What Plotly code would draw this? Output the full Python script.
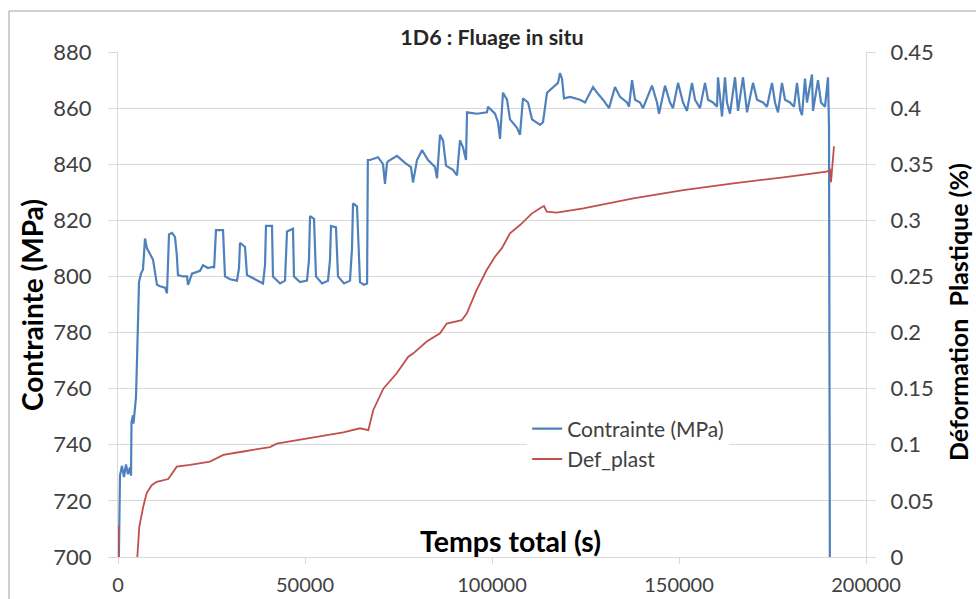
import plotly.graph_objects as go

# ---- data ----
temps_contrainte = [
    130, 350, 530, 1070, 1600, 2140, 2670, 3210, 3480, 3610, 4010, 4140, 4410, 4810,
    5080, 5270, 5430, 5620, 6150, 6680, 7220, 7750, 8560, 9360, 10430, 11230, 12570,
    13100, 13640, 14440, 15240, 15700, 16040, 17380, 18450, 18720, 19790, 21930, 22730,
    24060, 25400, 25700, 26200, 28080, 28610, 29950, 31820, 32350, 32620, 33960, 34490,
    36630, 38770, 39310, 39570, 41180, 41440, 43320, 44650, 45190, 46790, 47060, 48660,
    50530, 51070, 51340, 52410, 52940, 54550, 56150, 56690, 56950, 58290, 58820, 60430,
    62030, 62570, 62840, 63900, 64710, 65780, 66600, 66800,
    67380, 69520, 70860, 71390, 71920, 72190, 74600, 76740, 78340, 78880, 79950, 81290,
    82890, 84760, 85300, 86100, 86900, 87700, 89570, 90640, 91440, 92250, 93050, 93320,
    95990, 98660, 98930, 100800, 101600, 102140, 102940, 104010, 104810, 106690, 107490,
    108290, 109630, 110700, 112830, 113640, 114710, 116310, 117650, 118180, 118720, 119250,
    120860, 123530, 124870, 127010, 128080, 129680, 131290, 132890, 134230, 136100, 136630,
    137440, 138240, 139580, 140380, 142780, 144120, 144660, 146260, 147600, 148400, 149740,
    151070, 152140, 153480, 154280, 155620, 156960, 157760, 159100, 160170, 160430, 161500,
    162300, 162840, 163640, 164980, 165780, 167120, 168190, 169790, 170860, 172460, 173530,
    174870, 175670, 176470, 177540, 178340, 179680, 180750, 181550, 182350, 182890, 183690,
    184220, 185560, 185830, 187170, 187970, 189040, 189840, 190110, 190200, 190300, 190350,
]
contrainte = [
    690, 725, 729, 732.5, 728.5, 733, 729.5, 732, 729, 748, 750.5, 747.5, 752, 757,
    770, 778.5, 791.5, 798, 801, 802.5, 813.5, 810, 808, 806, 797, 796.5, 796,
    794, 815, 815.5, 814, 808, 800.5, 800, 800, 797, 801, 802, 804,
    803, 803.5, 803, 816.5, 816.5, 800, 799, 798.5, 803, 812, 810.5, 800.5,
    799, 797.5, 804, 818, 818, 800, 797.5, 798.5, 816, 817, 800, 798,
    798.5, 806, 821.5, 820.5, 800, 797.5, 798.5, 806, 818, 817.5, 800, 797.5,
    798.5, 810, 826, 825, 798, 797, 797.5, 841.5,
    841.5, 842.5, 840, 833, 840.5, 841, 843, 840.5, 839, 833.5, 841.5, 845,
    841.5, 839, 835, 850.5, 848.5, 839.5, 838, 836, 848.5, 846, 841.5, 858.5,
    858, 858.5, 860.5, 858, 855, 849, 865.5, 863, 856, 853, 850.5,
    863.5, 862, 856, 854, 855, 865.5, 867.5, 869, 872.5, 870.5, 863.5,
    864, 863, 862, 867.5, 865.5, 863, 860, 867.5, 864, 862, 860.5,
    870, 863, 862, 860, 868, 862, 858, 868, 862, 860, 869,
    862, 859, 869, 863, 860, 869, 863, 862, 860.5, 871, 857,
    871, 862, 858, 871, 859, 871, 858.5, 869, 863, 862, 860.5,
    869, 862, 858.5, 869, 863, 862, 860.5, 869, 859.5, 857.5, 870.5,
    862, 872, 859, 870, 862, 860.5, 871, 853, 790, 760, 690,
]

temps_def = [
    0, 100, 300, 5000, 5160, 5700, 6760, 7670, 9010, 10350, 13450, 15700, 19250,
    24600, 28160, 33500, 40640, 42440, 47780, 53130, 60240, 64710, 66930, 68260,
    70940, 74520, 77620, 78960, 82540, 86100, 87890, 91900, 93240, 95910, 98580,
    100800, 102600, 104810, 107490, 110620, 112830, 113900, 114630, 117300, 124410,
    137780, 151150, 164520, 177890, 189490, 190380, 190640, 191040, 191440,
]
def_plast = [
    -0.01, 0.028, -0.05, -0.02, 0.0, 0.027, 0.045, 0.057, 0.064, 0.067, 0.0695, 0.0805, 0.082,
    0.085, 0.091, 0.094, 0.098, 0.101, 0.1037, 0.107, 0.111, 0.1147, 0.113, 0.131,
    0.150, 0.1637, 0.1785, 0.1815, 0.192, 0.1993, 0.208, 0.211, 0.217, 0.238, 0.2557,
    0.2676, 0.275, 0.2884, 0.2958, 0.306, 0.3107, 0.3128, 0.3077, 0.3068, 0.3107,
    0.3196, 0.327, 0.333, 0.3383, 0.3433, 0.345, 0.334, 0.35, 0.366,
]

x_ticks = [0, 50000, 100000, 150000, 200000]
x_ticktext = ["0", "50000", "100000", "150000", "200000"]
y_ticks = [700, 720, 740, 760, 780, 800, 820, 840, 860, 880]
y2_ticks = [0, 0.05, 0.1, 0.15, 0.2, 0.25, 0.3, 0.35, 0.4, 0.45]
y2_ticktext = ["0", "0.05", "0.1", "0.15", "0.2", "0.25", "0.3", "0.35", "0.4", "0.45"]

BLUE = "#4F81BD"
RED = "#C0504D"
GRID = "#d9d9d9"
TXT = "#404040"
FONT = "Lato"

fig = go.Figure()
fig.add_trace(go.Scatter(x=temps_contrainte, y=contrainte, mode="lines",
                         name="Contrainte (MPa)", line=dict(color=BLUE, width=2.2)))
fig.add_trace(go.Scatter(x=temps_def, y=def_plast, mode="lines", name="Def_plast",
                         yaxis="y2", line=dict(color=RED, width=1.8)))

fig.update_layout(
    width=976, height=599, autosize=False,
    margin=dict(l=118, r=110, t=52, b=42, pad=0),
    paper_bgcolor="white", plot_bgcolor="white",
    font=dict(family=FONT, size=21, color=TXT),
    showlegend=True,
    legend=dict(x=0.547, y=0.294, xanchor="left", yanchor="top", bgcolor="white",
                font=dict(family=FONT, size=21, color=TXT), tracegroupgap=0,
                itemwidth=30),
    title=dict(text="<b>1D6 : Fluage in situ</b>", x=0.5, xref="paper", xanchor="center",
               y=1 - 37 / 599, yanchor="middle", automargin=False,
               font=dict(family=FONT, size=21.5, color="#262626")),
    xaxis=dict(range=[0, 200000], tickvals=x_ticks, ticktext=x_ticktext, automargin=False,
               showgrid=False, zeroline=False, showline=True, linecolor=GRID, linewidth=1,
               ticks="outside", ticklen=6, tickcolor=GRID, ticklabelstandoff=4,
               tickfont=dict(family=FONT, size=20, color=TXT)),
    yaxis=dict(range=[700, 880], tickvals=y_ticks, showgrid=True, gridcolor=GRID,
               automargin=False,
               gridwidth=1, zeroline=False, showline=True, linecolor=GRID, linewidth=1,
               ticks="outside", ticklen=9, tickcolor=GRID, ticklabelstandoff=12,
               tickfont=dict(family=FONT, size=22, color=TXT)),
    yaxis2=dict(range=[0, 0.45], tickvals=y2_ticks, ticktext=y2_ticktext, overlaying="y",
                side="right", showgrid=False, zeroline=False, showline=True,
                automargin=False,
                linecolor=GRID, linewidth=1, ticks="outside", ticklen=9, tickcolor=GRID,
                ticklabelstandoff=10,
                tickfont=dict(family=FONT, size=22, color=TXT)),
)

fig.add_annotation(text="<b>Contrainte (MPa)</b>", xref="paper", yref="paper",
                   x=(32 - 118) / 748, y=(557 - 305) / 505, xanchor="center",
                   yanchor="middle", textangle=-90, showarrow=False,
                   font=dict(family=FONT, size=28, color="black"))
fig.add_annotation(text="<b>Temps total (s)</b>", xref="paper", yref="paper",
                   x=(510 - 118) / 748, y=(557 - 541) / 505, xanchor="center",
                   yanchor="middle", showarrow=False,
                   font=dict(family=FONT, size=28.5, color="black"))
fig.add_annotation(text="<b>Déformation  Plastique (%)</b>", xref="paper", yref="paper",
                   x=(958 - 118) / 748, y=(557 - 312) / 505, xanchor="center",
                   yanchor="middle", textangle=-90, showarrow=False,
                   font=dict(family=FONT, size=25, color="black"))

# outer chart border (top and left edges visible)
fig.add_shape(type="line", xref="paper", yref="paper",
              x0=(9 - 118) / 748, x1=(990 - 118) / 748, y0=(557 - 11) / 505, y1=(557 - 11) / 505,
              line=dict(color="#c0c0c0", width=1.5))
fig.add_shape(type="line", xref="paper", yref="paper",
              x0=(9 - 118) / 748, x1=(9 - 118) / 748, y0=(557 - 11) / 505, y1=(557 - 620) / 505,
              line=dict(color="#c0c0c0", width=1.5))

fig.write_html("out.html", config={"displayModeBar": False},
               post_script="document.body.style.margin='0';document.body.style.overflow='hidden';")
